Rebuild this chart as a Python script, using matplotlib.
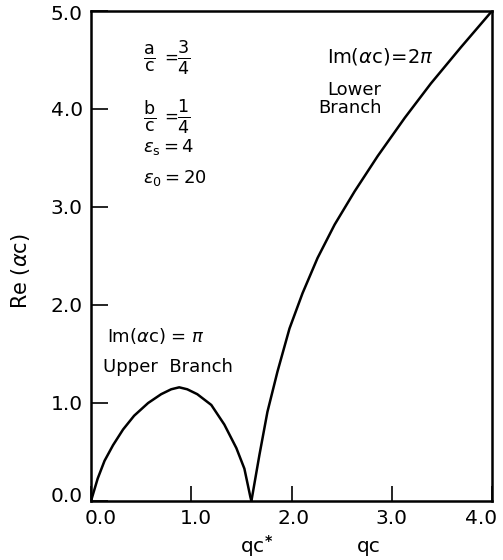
import matplotlib
matplotlib.use("Agg")
import matplotlib.pyplot as plt
from matplotlib.transforms import ScaledTranslation

# Data
upper_x = [0.0, 0.067, 0.135, 0.22, 0.32, 0.43, 0.57, 0.70, 0.80, 0.88, 0.96, 1.06, 1.20, 1.33, 1.45, 1.53, 1.59, 1.60]
upper_y = [0.0, 0.23, 0.41, 0.57, 0.73, 0.87, 1.00, 1.09, 1.14, 1.16, 1.14, 1.09, 0.98, 0.78, 0.54, 0.33, 0.04, 0.0]
lower_x = [1.60, 1.68, 1.76, 1.86, 1.98, 2.11, 2.26, 2.43, 2.63, 2.86, 3.13, 3.39, 3.69, 4.00]
lower_y = [0.0, 0.47, 0.91, 1.32, 1.76, 2.12, 2.48, 2.82, 3.16, 3.52, 3.91, 4.26, 4.63, 5.0]
xticks = [0.0, 1.0, 2.0, 3.0, 4.0]
yticks = [0.0, 1.0, 2.0, 3.0, 4.0, 5.0]
xtick_labels = ["0.0", "1.0", "2.0", "3.0", "4.0"]
ytick_labels = ["0.0", "1.0", "2.0", "3.0", "4.0", "5.0"]
qc_star = 1.6

W, H = 503, 560
fig = plt.figure(figsize=(W / 100, H / 100), dpi=100)
ax = fig.add_axes([91 / W, 1 - 501 / H, (492 - 91) / W, (501 - 11) / H])

ax.plot(upper_x, upper_y, color="black", lw=1.8, solid_joinstyle="round")
ax.plot(lower_x, lower_y, color="black", lw=1.8, solid_joinstyle="round")

ax.set_xlim(0, 4)
ax.set_ylim(0, 5)
for s in ax.spines.values():
    s.set_linewidth(1.8)

ax.set_xticks(xticks)
ax.set_xticklabels(xtick_labels)
ax.set_yticks(yticks)
ax.set_yticklabels(ytick_labels)
ax.tick_params(axis="both", direction="in", width=1.2, labelsize=14.5, colors="black")
ax.tick_params(axis="x", length=11, pad=6)
ax.tick_params(axis="y", length=12.5, pad=6)

# shift the end tick labels inward like the reference
xl = ax.get_xticklabels()
offs = {0: 10, 1: 5, 2: 2, 4: -11}
for i, dx in offs.items():
    xl[i].set_transform(xl[i].get_transform() + ScaledTranslation(dx / 100, 0, fig.dpi_scale_trans))
yl = ax.get_yticklabels()
yl[0].set_transform(yl[0].get_transform() + ScaledTranslation(0, 6 / 100, fig.dpi_scale_trans))
yl[5].set_transform(yl[5].get_transform() + ScaledTranslation(0, -1 / 100, fig.dpi_scale_trans))

ax.set_ylabel(r"Re ($\alpha$c)", fontsize=15)
ax.yaxis.set_label_coords(-0.148, 0.47)

# x-axis labels
ax.text(qc_star + 0.05, -0.092, r"qc$^{\mathbf{*}}$", transform=ax.get_xaxis_transform(),
        ha="center", va="center", fontsize=14.5)
ax.text(2.77, -0.092, "qc", transform=ax.get_xaxis_transform(),
        ha="center", va="center", fontsize=14.5)

# annotations
fs = 13
ax.text(0.52, 4.52, r"$\frac{\mathrm{a}}{\mathrm{c}}$", fontsize=18, ha="left", va="center")
ax.text(0.73, 4.52, "=", fontsize=12, ha="left", va="center")
ax.text(0.86, 4.52, r"$\frac{3}{4}$", fontsize=18, ha="left", va="center")
ax.text(0.52, 3.92, r"$\frac{\mathrm{b}}{\mathrm{c}}$", fontsize=18, ha="left", va="center")
ax.text(0.73, 3.92, "=", fontsize=12, ha="left", va="center")
ax.text(0.86, 3.92, r"$\frac{1}{4}$", fontsize=18, ha="left", va="center")
ax.text(0.52, 3.61, r"$\epsilon_\mathrm{s} = 4$", fontsize=fs, ha="left", va="center")
ax.text(0.52, 3.30, r"$\epsilon_\mathrm{0} = 20$", fontsize=fs, ha="left", va="center")

ax.text(0.16, 1.68, r"Im($\alpha$c) = $\pi$", fontsize=fs, ha="left", va="center")
ax.text(0.12, 1.37, "Upper  Branch", fontsize=fs, ha="left", va="center")
ax.text(2.35, 4.54, r"Im($\alpha$c)$\!=\!$2$\pi$", fontsize=14, ha="left", va="center")
ax.text(2.58, 4.1, "Lower\nBranch", fontsize=fs, ha="center", va="center",
        multialignment="right", linespacing=1.0)

fig.savefig("out.png", dpi=100)
